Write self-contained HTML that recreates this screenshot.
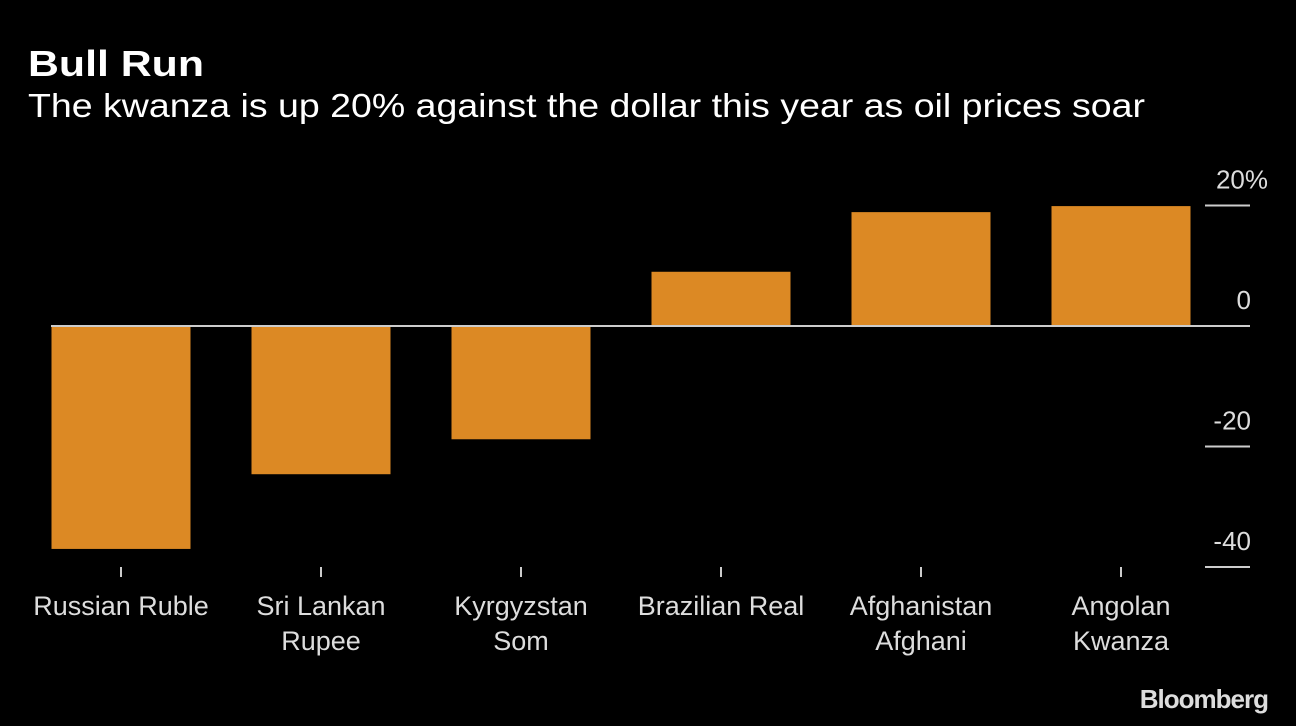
<!DOCTYPE html>
<html><head><meta charset="utf-8"><style>
html,body{margin:0;padding:0;background:#000;width:1296px;height:726px;overflow:hidden}
text{font-family:"Liberation Sans",sans-serif}
</style></head><body>
<svg id="chart" width="1296" height="726" xmlns="http://www.w3.org/2000/svg">
<text x="28" y="76" fill="#fff" font-size="36" font-weight="bold" textLength="176" lengthAdjust="spacingAndGlyphs">Bull Run</text>
<text x="28" y="117" fill="#fff" font-size="33" textLength="1117" lengthAdjust="spacingAndGlyphs">The kwanza is up 20% against the dollar this year as oil prices soar</text>
<text x="1268" y="708" fill="#ddd" font-size="26" font-weight="bold" text-anchor="end" letter-spacing="-1">Bloomberg</text>
<g id="plot"></g>
</svg>
<script>
const categories = [["Russian Ruble"],["Sri Lankan","Rupee"],["Kyrgyzstan","Som"],["Brazilian Real"],["Afghanistan","Afghani"],["Angolan","Kwanza"]];
const values = [-37.0,-24.6,-18.8,9.0,18.9,19.9];
const yTicks = [20,0,-20,-40];
const yTickLabels = ["20%","0","-20","-40"];
const ns="http://www.w3.org/2000/svg";
const g=document.getElementById('plot');
const y=v=>326-v*6.025;
const xC=i=>121+i*200;
const bw=139;
function mk(t,a){const e=document.createElementNS(ns,t);for(const k in a)e.setAttribute(k,a[k]);g.appendChild(e);return e;}
values.forEach((v,i)=>{
  const r=mk('rect',{x:xC(i)-bw/2,y:Math.min(y(v),y(0)),width:bw,height:Math.abs(y(v)-y(0)),fill:'#dc8924'});
  
  
  const tk=mk('line',{x1:xC(i),x2:xC(i),y1:567,y2:577,stroke:'#ccc','stroke-width':2});
  
  
  categories[i].forEach((s,j)=>{
    const t=mk('text',{x:xC(i),y:615+j*35,fill:'#ddd','font-size':27,'text-anchor':'middle'});
    t.textContent=s;
    
    
  });
});
const z=mk('line',{x1:51,x2:1250,y1:y(0),y2:y(0),stroke:'#ccc','stroke-width':2});


yTicks.forEach((v,i)=>{
  const l=mk('line',{x1:1205,x2:1250,y1:y(v),y2:y(v),stroke:'#ccc','stroke-width':2});
  
  
  const t=mk('text',{x:1251,y:y(v)-17,fill:'#ddd','font-size':26,'text-anchor':'end'});
  if(i===0)t.setAttribute('x',1268);
  t.textContent=yTickLabels[i];
  
  
});
</script>
</body></html>
